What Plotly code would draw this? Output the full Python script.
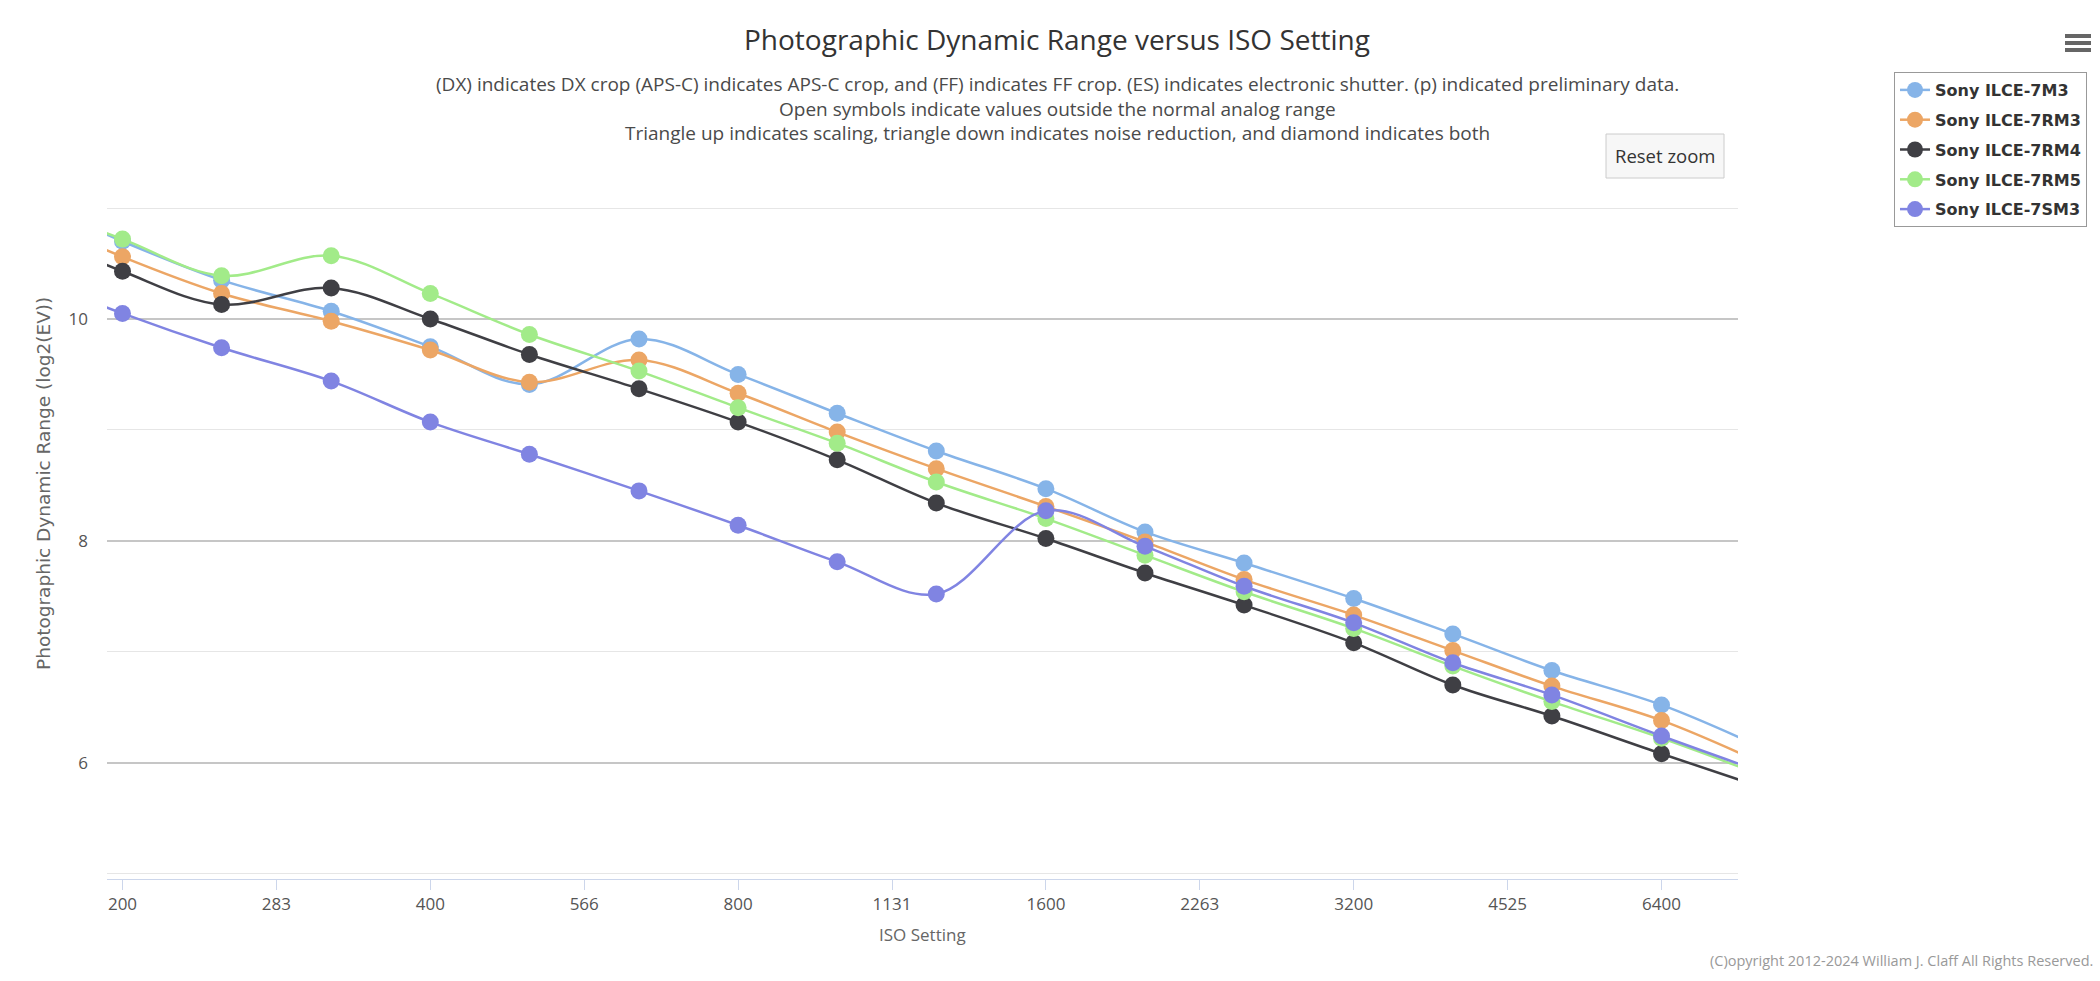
import plotly.graph_objects as go

# ---------------- data ----------------
iso = [160, 200, 250, 320, 400, 500, 640, 800, 1000, 1250, 1600, 2000, 2500, 3200, 4000, 5000, 6400, 8000]

series_names = ["Sony ILCE-7M3", "Sony ILCE-7RM3", "Sony ILCE-7RM4", "Sony ILCE-7RM5", "Sony ILCE-7SM3"]

dr_7m3 = [11.10, 10.70, 10.35, 10.07, 9.75, 9.41, 9.82, 9.50, 9.15, 8.81, 8.47, 8.08, 7.80, 7.48, 7.16, 6.83, 6.52, 6.14]
dr_7rm3 = [10.95, 10.56, 10.23, 9.98, 9.72, 9.43, 9.63, 9.33, 8.98, 8.65, 8.31, 7.99, 7.65, 7.33, 7.01, 6.69, 6.38, 6.00]
dr_7rm4 = [10.82, 10.43, 10.13, 10.28, 10.00, 9.68, 9.37, 9.07, 8.73, 8.34, 8.02, 7.71, 7.42, 7.08, 6.70, 6.42, 6.08, 5.78]
dr_7rm5 = [11.05, 10.72, 10.39, 10.57, 10.23, 9.86, 9.53, 9.20, 8.88, 8.53, 8.20, 7.87, 7.54, 7.21, 6.87, 6.55, 6.22, 5.89]
dr_7sm3 = [10.40, 10.05, 9.74, 9.44, 9.07, 8.78, 8.45, 8.14, 7.81, 7.52, 8.27, 7.95, 7.59, 7.26, 6.90, 6.61, 6.24, 5.92]

series_values = [dr_7m3, dr_7rm3, dr_7rm4, dr_7rm5, dr_7sm3]
series_colors = ["#86b4e8", "#eca665", "#3f3f44", "#a2eb89", "#8084e2"]

x_tick_values = [200, 282.84, 400, 565.69, 800, 1131.37, 1600, 2262.74, 3200, 4525.48, 6400]
x_tick_labels = ["200", "283", "400", "566", "800", "1131", "1600", "2263", "3200", "4525", "6400"]
y_major_ticks = [6, 8, 10]
y_minor_ticks = [5, 7, 9, 11]

title_text = "Photographic Dynamic Range versus ISO Setting"
subtitle_lines = [
    "(DX) indicates DX crop (APS-C) indicates APS-C crop, and (FF) indicates FF crop. (ES) indicates electronic shutter. (p) indicated preliminary data.",
    "Open symbols indicate values outside the normal analog range",
    "Triangle up indicates scaling, triangle down indicates noise reduction, and diamond indicates both",
]

# ---------------- layout geometry ----------------
W_PX, H_PX = 2100, 981
M_L, M_R, M_T, M_B = 107, 362, 124, 102
PL, PR, PT, PB = M_L, W_PX - M_R, M_T, H_PX - M_B


def px(x):
    return (x - PL) / (PR - PL)


def py(y):
    return (PB - y) / (PB - PT)


FONT = "Open Sans, Noto Sans, sans-serif"

fig = go.Figure()
for name, vals, col in zip(series_names, series_values, series_colors):
    fig.add_trace(go.Scatter(
        x=iso, y=vals, name=name, mode="lines+markers",
        line=dict(color=col, width=2.5, shape="spline", smoothing=1.0),
        marker=dict(color=col, size=17, line=dict(width=0)),
        legendgroup=name,
    ))

fig.update_layout(
    width=W_PX, height=H_PX,
    margin=dict(l=M_L, r=M_R, t=M_T, b=M_B, pad=0),
    paper_bgcolor="white", plot_bgcolor="white",
    font=dict(family=FONT, color="#666666"),
    showlegend=True,
    legend=dict(
        x=px(1894), y=py(72), xanchor="left", yanchor="top",
        bordercolor="#999999", borderwidth=1, bgcolor="white",
        font=dict(family="DejaVu Sans, sans-serif", size=16, color="#333333", weight=700),
        tracegroupgap=6, itemwidth=30,
    ),
    xaxis=dict(
        type="log", range=[2.28587, 3.88098],
        tickmode="array", tickvals=x_tick_values, ticktext=x_tick_labels,
        showgrid=False, zeroline=False,
        showline=True, linecolor="#ccd6eb", linewidth=1,
        ticks="outside", ticklen=10, tickwidth=1, tickcolor="#ccd6eb",
        tickfont=dict(family=FONT, size=17, color="#555555"),
    ),
    yaxis=dict(
        range=[4.9504, 11.758],
        tickmode="array", tickvals=y_major_ticks,
        showgrid=True, gridcolor="#c6c6c6", gridwidth=1.5,
        zeroline=False, showline=False, ticks="",
        ticklabelstandoff=18,
        tickfont=dict(family=FONT, size=17, color="#555555"),
        minor=dict(tickmode="array", tickvals=y_minor_ticks, showgrid=True,
                   gridcolor="#e6e6e6", gridwidth=1, ticks=""),
    ),
)

annotations = []
annotations.append(dict(text=title_text, x=px(1057), y=py(39), xref="paper", yref="paper",
                        xanchor="center", yanchor="middle", showarrow=False,
                        font=dict(family=FONT, size=28, color="#333333")))
for i, line in enumerate(subtitle_lines):
    annotations.append(dict(text=line, x=px(1057), y=py(84 + 24.5 * i), xref="paper", yref="paper",
                            xanchor="center", yanchor="middle", showarrow=False,
                            font=dict(family=FONT, size=19, color="#4a4a4a")))
annotations.append(dict(text="ISO Setting", x=px(922), y=py(934), xref="paper", yref="paper",
                        xanchor="center", yanchor="middle", showarrow=False,
                        font=dict(family=FONT, size=17, color="#666666")))
annotations.append(dict(text="Photographic Dynamic Range (log2(EV))", x=px(43), y=py(484),
                        xref="paper", yref="paper", textangle=-90,
                        xanchor="center", yanchor="middle", showarrow=False,
                        font=dict(family="DejaVu Sans, sans-serif", size=18.5, color="#666666")))
annotations.append(dict(text="(C)opyright 2012-2024 William J. Claff All Rights Reserved.",
                        x=px(2095), y=py(960), xref="paper", yref="paper",
                        xanchor="right", yanchor="middle", showarrow=False,
                        font=dict(family=FONT, size=14.5, color="#999999")))
annotations.append(dict(text="Reset zoom", x=px(1665), y=py(156), xref="paper", yref="paper",
                        xanchor="center", yanchor="middle", showarrow=False,
                        font=dict(family=FONT, size=18.5, color="#333333")))
fig.update_layout(annotations=annotations)

shapes = []
shapes.append(dict(type="rect", xref="paper", yref="paper",
                   x0=px(1606), x1=px(1724), y0=py(178), y1=py(134),
                   line=dict(color="#cccccc", width=1), fillcolor="#f7f7f7", layer="above"))
for yy in (36, 43, 50):
    shapes.append(dict(type="line", xref="paper", yref="paper",
                       x0=px(2065), x1=px(2091), y0=py(yy), y1=py(yy),
                       line=dict(color="#666666", width=4)))
fig.update_layout(shapes=shapes)

fig.write_html("out.html", config={"displayModeBar": False},
               post_script="document.body.style.margin='0';document.body.style.overflow='hidden';")
